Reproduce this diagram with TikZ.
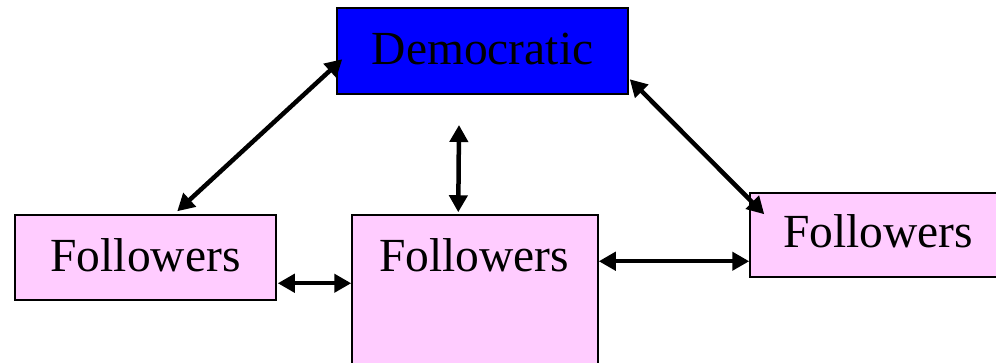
\documentclass[tikz,border=0pt]{standalone}
\usepackage{fontspec}
\setmainfont{Liberation Serif}
\newfontfamily\boxface{Liberation Serif}
\usetikzlibrary{arrows.meta,calc}
\definecolor{demblue}{HTML}{0000FF}
\definecolor{folpink}{HTML}{FFCCFF}
\tikzset{
  box/.style={draw=black, line width=1.5pt, inner sep=0pt, rectangle},
  label text/.style={anchor=base, inner sep=0pt, font=\boxface\fontsize{47.5}{57}\selectfont},
  link/.style={line width=4.5pt,
    {Triangle[length=17pt,width=18pt]}-{Triangle[length=17pt,width=18pt]}}
}
\begin{document}
\begin{tikzpicture}[x=1pt,y=-1pt]
  \useasboundingbox (0,0) rectangle (996,363);
  % boxes
  \node[box, fill=demblue, minimum width=291pt, minimum height=86pt] (dem) at (482.5,51) {};
  \node[box, fill=folpink, minimum width=261pt, minimum height=85pt] (lf) at (145.5,257.5) {};
  \node[box, fill=folpink, minimum width=246pt, minimum height=160pt] (mf) at (475,295) {};
  \node[box, fill=folpink, minimum width=256pt, minimum height=84pt] (rf) at (878,235) {};
  % texts
  \node[label text] (demtxt) at (482.5,65) {Democratic};
  \node[label text] (lftxt) at (145.5,272) {Followers};
  \node[label text] (mftxt) at (474,272) {Followers};
  \node[label text] (rftxt) at (878,248) {Followers};
  % connectors
  \coordinate (lfa) at ($(lf.north west)+(163,-3)$);
  \coordinate (dema) at ($(dem.north west)+(6,52)$);
  \draw[link] (lfa) -- (dema);
  \coordinate (vtop) at (459,125);
  \coordinate (vbot) at ($(mf.north west)+(107,-2)$);
  \draw[link] (vtop) -- (vbot);
  \coordinate (demb) at ($(dem.north east)+(1,72)$);
  \coordinate (rfa) at ($(rf.north west)+(15,22)$);
  \draw[link] (demb) -- (rfa);
  \draw[link] ($(lf.north east)+(1,69)$) -- ($(mf.north west)+(0,69)$);
  \draw[link] ($(mf.north east)+(0,47)$) -- ($(rf.north west)+(0,69)$);
\end{tikzpicture}
\end{document}
